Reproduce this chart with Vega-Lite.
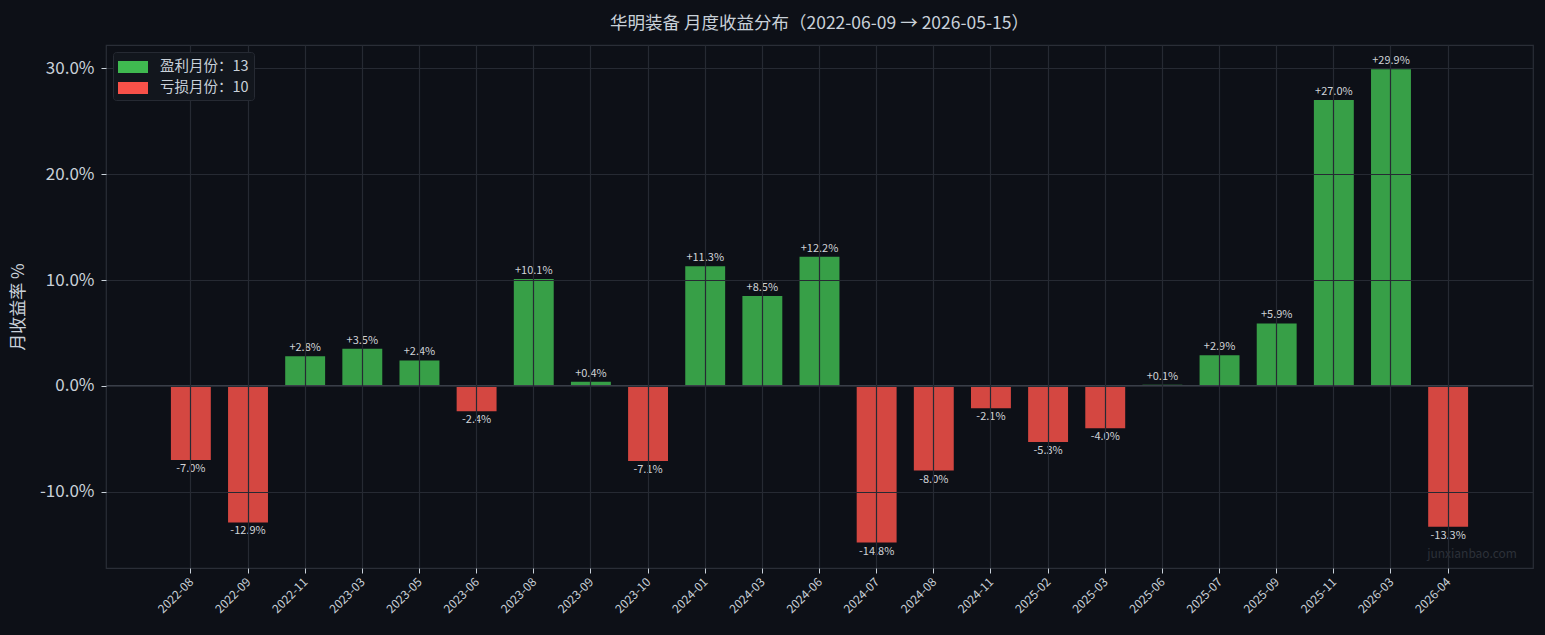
{
  "$schema": "https://vega.github.io/schema/vega-lite/v6.json",
  "autosize": "none",
  "width": 1427,
  "height": 523,
  "padding": {"left": 106, "top": 45, "right": 12, "bottom": 67},
  "background": "#0d1017",
  "config": {
    "font": "Noto Sans CJK SC",
    "view": {"fill": "#0d1017", "stroke": "#2a2e37", "strokeWidth": 1.2}
  },
  "title": {
    "text": "华明装备 月度收益分布（2022-06-09 → 2026-05-15）",
    "fontSize": 17.5,
    "fontWeight": "normal",
    "color": "#c9d1d9",
    "anchor": "middle",
    "offset": 13
  },
  "data": {
    "values": [
      {"month": "2022-08", "ret": -7.0, "type": "亏损月份：10"},
      {"month": "2022-09", "ret": -12.9, "type": "亏损月份：10"},
      {"month": "2022-11", "ret": 2.8, "type": "盈利月份：13"},
      {"month": "2023-03", "ret": 3.5, "type": "盈利月份：13"},
      {"month": "2023-05", "ret": 2.4, "type": "盈利月份：13"},
      {"month": "2023-06", "ret": -2.4, "type": "亏损月份：10"},
      {"month": "2023-08", "ret": 10.1, "type": "盈利月份：13"},
      {"month": "2023-09", "ret": 0.4, "type": "盈利月份：13"},
      {"month": "2023-10", "ret": -7.1, "type": "亏损月份：10"},
      {"month": "2024-01", "ret": 11.3, "type": "盈利月份：13"},
      {"month": "2024-03", "ret": 8.5, "type": "盈利月份：13"},
      {"month": "2024-06", "ret": 12.2, "type": "盈利月份：13"},
      {"month": "2024-07", "ret": -14.8, "type": "亏损月份：10"},
      {"month": "2024-08", "ret": -8.0, "type": "亏损月份：10"},
      {"month": "2024-11", "ret": -2.1, "type": "亏损月份：10"},
      {"month": "2025-02", "ret": -5.3, "type": "亏损月份：10"},
      {"month": "2025-03", "ret": -4.0, "type": "亏损月份：10"},
      {"month": "2025-06", "ret": 0.1, "type": "盈利月份：13"},
      {"month": "2025-07", "ret": 2.9, "type": "盈利月份：13"},
      {"month": "2025-09", "ret": 5.9, "type": "盈利月份：13"},
      {"month": "2025-11", "ret": 27.0, "type": "盈利月份：13"},
      {"month": "2026-03", "ret": 29.9, "type": "盈利月份：13"},
      {"month": "2026-04", "ret": -13.3, "type": "亏损月份：10"}
    ]
  },
  "transform": [
    {"calculate": "(datum.ret >= 0 ? '+' : '-') + format(abs(datum.ret), '.1f') + '%'", "as": "label"}
  ],
  "encoding": {
    "x": {
      "field": "month",
      "type": "ordinal",
      "sort": null,
      "scale": {"paddingInner": 0.03, "paddingOuter": 1},
      "axis": {
        "title": null,
        "bandPosition": 0.5,
        "labelAngle": -45,
        "labelAlign": "right",
        "labelBaseline": "top",
        "labelFontSize": 12,
        "labelColor": "#c9d1d9",
        "labelPadding": 3,
        "labelOffset": -3,
        "tickColor": "#c9d1d9",
        "tickSize": 5,
        "domain": false,
        "grid": true,
        "gridColor": "#262a33",
        "gridWidth": 1.2,
        "zindex": 1
      }
    },
    "y": {
      "field": "ret",
      "type": "quantitative",
      "scale": {"domain": [-17.2, 32.2], "nice": false, "zero": false},
      "axis": {
        "title": "月收益率 %",
        "titleFontSize": 17,
        "titleFontWeight": "normal",
        "titleColor": "#c9d1d9",
        "titleX": -88,
        "titleBaseline": "middle",
        "values": [-10, 0, 10, 20, 30],
        "labelExpr": "(datum.value < 0 ? '-' : '') + format(abs(datum.value), '.1f') + '%'",
        "labelFontSize": 17,
        "labelColor": "#c9d1d9",
        "labelPadding": 7,
        "tickColor": "#c9d1d9",
        "tickSize": 5,
        "domain": false,
        "grid": true,
        "gridColor": "#262a33",
        "gridWidth": 1.2,
        "zindex": 1
      }
    }
  },
  "layer": [
    {
      "mark": {"type": "bar", "opacity": 0.85, "width": {"band": 0.72}},
      "encoding": {
        "y2": {"datum": 0},
        "color": {
          "field": "type",
          "type": "nominal",
          "scale": {
            "domain": ["盈利月份：13", "亏损月份：10"],
            "range": ["#3fb950", "#f85149"]
          },
          "legend": {
            "title": null,
            "orient": "top-left",
            "offset": 7,
            "padding": 5,
            "zindex": 2,
            "fillColor": "#12161d",
            "strokeColor": "#262a33",
            "cornerRadius": 3,
            "labelColor": "#c9d1d9",
            "labelFontSize": 14.5,
            "labelOffset": 17,
            "rowPadding": 4,
            "symbolType": "M-1.5,-0.6H1.5V0.6H-1.5Z",
            "symbolSize": 400,
            "symbolOffset": 5,
            "symbolOpacity": 1,
            "symbolStrokeWidth": 0,
            "symbolStrokeColor": "transparent"
          }
        }
      }
    },
    {
      "mark": {"type": "rule", "color": "#3a3f48", "strokeWidth": 1.3},
      "encoding": {"y": {"datum": 0}, "x": null}
    },
    {
      "transform": [{"filter": "datum.ret >= 0"}],
      "mark": {"type": "text", "baseline": "bottom", "dy": -3, "fontSize": 11, "color": "#d0d3d8"},
      "encoding": {"text": {"field": "label"}}
    },
    {
      "transform": [{"filter": "datum.ret < 0"}],
      "mark": {"type": "text", "baseline": "top", "dy": 3, "fontSize": 11, "color": "#d0d3d8"},
      "encoding": {"text": {"field": "label"}}
    },
    {
      "data": {"values": [{"month": "2026-04", "ret": -15.9, "mark": "junxianbao.com"}]},
      "mark": {"type": "text", "align": "left", "baseline": "middle", "dx": -21, "fontSize": 12, "color": "#2c3039"},
      "encoding": {"text": {"field": "mark"}}
    }
  ]
}
